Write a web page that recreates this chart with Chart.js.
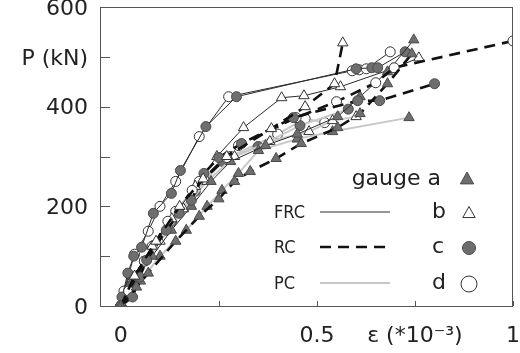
<!DOCTYPE html>
<html>
<head>
<meta charset="utf-8">
<script src="https://cdn.jsdelivr.net/npm/chart.js@4/dist/chart.umd.min.js"></script>
<style>
  html, body { margin: 0; padding: 0; background: #fff; overflow: hidden; }
</style>
</head>
<body>
<canvas id="chart" width="520" height="353"></canvas>
<script>
// strain (*10^-3), load (kN) pairs
// FRC specimen, gauges a-d
const frcA = [[0,0],[0.03,50],[0.08,100],[0.129,152],[0.18,200],[0.23,250],[0.28,290],[0.369,322],[0.45,345],[0.553,380],[0.61,420],[0.68,470],[0.747,534]];
const frcB = [[0,0],[0.03,55],[0.08,120],[0.13,175],[0.19,240],[0.245,300],[0.313,358],[0.41,418],[0.467,422],[0.56,440],[0.692,476],[0.76,498]];
const frcC = [[0,0],[0.003,18],[0.018,66],[0.033,100],[0.053,118],[0.083,186],[0.129,226],[0.152,272],[0.217,360],[0.295,420],[0.60,476],[0.64,478],[0.655,478],[0.725,510]];
const frcD = [[0,0],[0.008,30],[0.035,104],[0.07,150],[0.1,200],[0.14,250],[0.2,340],[0.275,420],[0.59,472],[0.608,474],[0.626,476],[0.687,510]];
// RC specimen
const rcA = [[0,0],[0.04,38],[0.07,66],[0.14,130],[0.2,180],[0.25,215],[0.29,250],[0.33,270],[0.396,296],[0.46,326],[0.553,358],[0.61,386],[0.68,446],[0.742,506]];
const rcB = [[0,0],[0.035,60],[0.09,130],[0.15,200],[0.21,255],[0.27,300],[0.384,356],[0.47,400],[0.545,446],[0.566,528]];
const rcC = [[0,0],[0.03,18],[0.048,58],[0.066,92],[0.116,152],[0.149,186],[0.18,212],[0.212,266],[0.25,298],[0.308,326],[0.44,378],[0.604,412],[0.66,412],[0.8,446]];
const rcD = [[0,0],[0.02,30],[0.06,90],[0.12,170],[0.182,232],[0.27,298],[0.3,322],[0.447,378],[0.55,410],[0.65,448],[0.697,478],[1.0,532]];
// PC specimen
const pcA = [[0,0],[0.05,50],[0.1,100],[0.167,152],[0.22,200],[0.258,232],[0.3,266],[0.351,312],[0.45,335],[0.54,350],[0.735,378]];
const pcB = [[0,0],[0.04,60],[0.1,130],[0.16,195],[0.22,250],[0.29,300],[0.38,330],[0.48,350],[0.54,372],[0.6,380]];
const pcC = [[0,0],[0.025,40],[0.06,90],[0.13,170],[0.19,230],[0.26,290],[0.35,320],[0.457,362],[0.58,395]];
const pcD = [[0,0],[0.03,50],[0.08,120],[0.14,190],[0.2,250],[0.28,300],[0.4,345],[0.47,376],[0.52,368]];

const xTickValues = [0, 0.25, 0.5, 0.75, 1];
const xTickLabels = ["0", "", "0.5", "ε (*10⁻³)", "1"];
const yTickValues = [0, 100, 200, 300, 400, 500, 600];
const yTickLabels = ["0", "", "200", "", "400", "P (kN)", "600"];

const specimens = ["FRC", "RC", "PC"];
const gauges = ["a", "b", "c", "d"];

const font = "'DejaVu Sans', sans-serif";
const ink = "#222";

// look of each specimen line and each gauge marker
const lineStyle = {
    FRC: { borderColor: "#2a2a2a", borderWidth: 1, borderDash: [] },
    RC:  { borderColor: "#111", borderWidth: 2.6, borderDash: [11, 7] },
    PC:  { borderColor: "#c8c8c8", borderWidth: 2, borderDash: [] }
};
const markerStyle = {
    a: { pointStyle: "triangle", pointRadius: 6, fill: "#6e6e6e", edge: "#4a4a4a" },
    b: { pointStyle: "triangle", pointRadius: 6, fill: "#ffffff", edge: "#333" },
    c: { pointStyle: "circle", pointRadius: 5, fill: "#6e6e6e", edge: "#4a4a4a" },
    d: { pointStyle: "circle", pointRadius: 5, fill: "#ffffff", edge: "#333" }
};

function makeSet(spec, gauge, pairs) {
    let ls = lineStyle[spec];
    let ms = markerStyle[gauge];
    return {
        label: spec + " " + gauge,
        data: pairs.map(p => ({ x: p[0], y: p[1] })),
        showLine: true,
        borderColor: ls.borderColor,
        borderWidth: ls.borderWidth,
        borderDash: ls.borderDash,
        pointStyle: ms.pointStyle,
        pointRadius: ms.pointRadius,
        pointBackgroundColor: ms.fill,
        pointBorderColor: ms.edge,
        pointBorderWidth: 1
    };
}

// first dataset is drawn on top
let datasets = [
    makeSet("RC", "a", rcA), makeSet("RC", "b", rcB), makeSet("RC", "c", rcC), makeSet("RC", "d", rcD),
    makeSet("FRC", "a", frcA), makeSet("FRC", "b", frcB), makeSet("FRC", "c", frcC), makeSet("FRC", "d", frcD),
    makeSet("PC", "a", pcA), makeSet("PC", "b", pcB), makeSet("PC", "c", pcC), makeSet("PC", "d", pcD)
];

function drawMarker(ctx, gauge, x, y, r) {
    let ms = markerStyle[gauge];
    ctx.save();
    ctx.fillStyle = ms.fill;
    ctx.strokeStyle = ms.edge;
    ctx.lineWidth = 1;
    ctx.beginPath();
    if (ms.pointStyle === "triangle") {
        ctx.moveTo(x, y - r);
        ctx.lineTo(x + r * 0.95, y + r * 0.7);
        ctx.lineTo(x - r * 0.95, y + r * 0.7);
        ctx.closePath();
    } else {
        ctx.arc(x, y, r, 0, Math.PI * 2);
    }
    ctx.fill();
    ctx.stroke();
    ctx.restore();
}

// frame with inward ticks, plus the legend drawn inside the plot
const framePlugin = {
    id: "frame",
    afterDraw(chart) {
        let ctx = chart.ctx;
        let a = chart.chartArea;
        let xs = chart.scales.x, ys = chart.scales.y;
        ctx.save();
        ctx.strokeStyle = "#555";
        ctx.lineWidth = 1;
        ctx.strokeRect(a.left + 0.5, a.top + 0.5, a.right - a.left - 1, a.bottom - a.top);
        ctx.beginPath();
        yTickValues.forEach(v => {
            let py = Math.round(ys.getPixelForValue(v)) + 0.5;
            ctx.moveTo(a.left, py);
            ctx.lineTo(a.left + 10, py);
        });
        xTickValues.forEach(v => {
            let px = Math.round(xs.getPixelForValue(v)) + 0.5;
            ctx.moveTo(px, a.bottom);
            ctx.lineTo(px, a.bottom - 5);
        });
        ctx.stroke();

        // legend: specimens on the left, gauges on the right
        ctx.fillStyle = ink;
        ctx.textBaseline = "middle";
        ctx.font = "22px " + font;
        ctx.textAlign = "right";
        ctx.fillText("gauge " + gauges[0], 441, 179);
        drawMarker(ctx, "a", 467, 179, 7);
        ctx.textAlign = "left";
        let rowY = [212, 247, 283];
        for (let i = 1; i < gauges.length; i++) {
            ctx.fillStyle = ink;
            ctx.font = "22px " + font;
            ctx.fillText(gauges[i], 432, rowY[i - 1]);
            drawMarker(ctx, gauges[i], 469, rowY[i - 1] + 1, gauges[i] === "d" ? 8 : 6.5);
        }
        specimens.forEach((s, i) => {
            ctx.fillStyle = ink;
            ctx.font = "18px 'DejaVu Sans Condensed', " + font;
            ctx.textAlign = "left";
            ctx.fillText(s, 274, rowY[i] + 1);
            let ls = lineStyle[s];
            ctx.strokeStyle = ls.borderColor;
            ctx.lineWidth = ls.borderWidth;
            ctx.setLineDash(ls.borderDash);
            ctx.beginPath();
            ctx.moveTo(320, rowY[i]);
            ctx.lineTo(390, rowY[i]);
            ctx.stroke();
            ctx.setLineDash([]);
        });
        ctx.restore();
    }
};

new Chart(document.getElementById("chart").getContext("2d"), {
    type: "scatter",
    data: { datasets: datasets },
    options: {
        responsive: false,
        animation: false,
        layout: { padding: { top: 7, right: 3, left: 0, bottom: 0 } },
        plugins: { legend: { display: false }, tooltip: { enabled: false } },
        scales: {
            x: {
                type: "linear",
                min: -0.053,
                max: 1.0,
                afterBuildTicks: s => { s.ticks = xTickValues.map(v => ({ value: v })); },
                afterFit: s => { s.height = 47; s.paddingLeft = 0; s.paddingRight = 0; },
                grid: { display: false, drawTicks: false },
                border: { display: false },
                ticks: {
                    autoSkip: false,
                    maxRotation: 0,
                    padding: 17,
                    color: ink,
                    font: { family: font, size: 22 },
                    callback: (v, i) => xTickLabels[i]
                }
            },
            y: {
                min: 0,
                max: 600,
                afterBuildTicks: s => { s.ticks = yTickValues.map(v => ({ value: v })); },
                afterFit: s => { s.width = 100; s.paddingTop = 0; s.paddingBottom = 0; },
                grid: { display: false, drawTicks: false },
                border: { display: false },
                ticks: {
                    autoSkip: false,
                    padding: 12,
                    labelOffset: 2,
                    color: ink,
                    font: { family: font, size: 22 },
                    callback: (v, i) => yTickLabels[i]
                }
            }
        }
    },
    plugins: [framePlugin]
});
</script>
</body>
</html>
